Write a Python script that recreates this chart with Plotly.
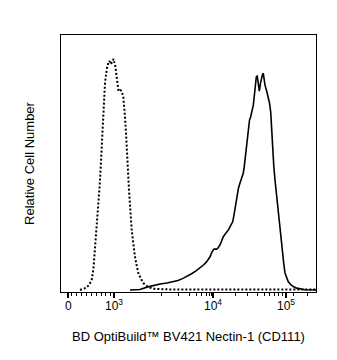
import plotly.graph_objects as go

# Display-scale channel (0-255) for the BV421 biexponential axis
unstained_ch = [19, 25, 28, 30.7, 32.5, 34, 35.7, 37.3, 38.5, 39.7, 40.7, 41.7, 43, 44, 45, 46,
                47.5, 48.5, 49.5, 50.5, 51.5, 52.5, 53.5, 54.5, 55.5, 56.5, 57.5, 59, 60.7,
                62.3, 63.2, 64, 65, 65.7, 67, 68, 69.5, 70.7, 72.5, 74, 76, 77.3, 80, 82.3,
                87.3, 94, 109, 255]
unstained_cnt = [0.8, 1.6, 2.7, 4.7, 9.3, 16.3, 24.1, 31.9, 40.5, 48.6, 56.4, 64.2, 74.7, 81.3,
                 84.4, 87.2, 89.1, 89.9, 88.7, 89.1, 89.5, 90.7, 89.5, 87.5, 84.0, 80.1, 78.2,
                 78.6, 78.2, 75.9, 72.7, 68.1, 61.9, 55.3, 47.5, 39.7, 31.1, 24.1, 18.3, 13.6,
                 9.7, 7.4, 5.1, 3.5, 1.9, 1.2, 1.0, 1.0]

stained_ch = [69, 79, 86, 92, 99, 106, 112, 117, 122, 127, 131, 135, 139, 142.5, 145.7, 149,
              151, 153, 155.7, 157, 159, 160.5, 162.3, 165, 167.3, 169.5, 171.7, 173, 174, 175,
              176.3, 177.5, 179, 180.5, 182.3, 183.2, 184, 185, 185.7, 186.5, 187.3, 188.5,
              189.7, 191, 192.3, 193.2, 194, 194.6, 195.3, 196.3, 197.3, 198.3, 199.5, 200.7,
              201.5, 202.3, 203.2, 204, 205.7, 207.3, 208.5, 209.7, 210.5, 211.7, 212.8, 214,
              215.2, 216.3, 217.6, 219, 220.3, 221.7, 222.8, 224, 225.6, 227.3, 229.8, 232.3,
              235.7, 239, 244, 255]
stained_cnt = [0.8, 1.0, 1.9, 2.5, 3.1, 3.5, 3.9, 4.5, 5.3, 6.2, 7.2, 8.2, 9.3, 10.5, 11.8, 13.7,
               15.6, 16.7, 16.7, 17.1, 18.3, 19.8, 21.5, 23.0, 24.1, 25.7, 27.3, 30.0, 32.7,
               35.4, 38.5, 40.5, 42.4, 44.4, 46.3, 48.6, 51.4, 55.3, 58.0, 61.9, 65.0, 66.9,
               68.2, 70.4, 72.7, 75.9, 78.6, 81.7, 83.7, 84.0, 80.9, 78.2, 81.3, 83.7, 84.6,
               85.1, 82.9, 80.5, 78.2, 76.0, 73.5, 70.1, 63.7, 55.1, 48.9, 43.6, 38.9, 34.6,
               30.7, 26.8, 21.0, 15.2, 10.9, 7.4, 5.4, 4.0, 2.9, 2.1, 1.5, 1.2, 0.9, 0.8]

# Axis ticks (channel positions)
major_ticks = [7, 52.8, 152.3, 224.8]
major_labels = ["0", "10<sup>3</sup>", "10<sup>4</sup>", "10<sup>5</sup>"]
minor_ticks = [10, 15, 20, 25, 30, 35, 40, 44.7, 49,
               100.5, 117, 128.5, 135, 140.5, 145, 148, 150,
               174.1, 186.9, 196, 203, 208.7, 213.6, 217.8, 221.5,
               232, 246.6]

font_family = "Liberation Sans, Arial, sans-serif"

fig = go.Figure()
fig.add_trace(go.Scatter(x=unstained_ch, y=unstained_cnt, mode="lines",
                         line=dict(color="black", width=2, dash="2px,2px"),
                         hoverinfo="skip", showlegend=False))
fig.add_trace(go.Scatter(x=stained_ch, y=stained_cnt, mode="lines",
                         line=dict(color="black", width=1.6),
                         hoverinfo="skip", showlegend=False))

# Decade labels, bottom-anchored so the baselines line up under the ticks
for val, lab in zip(major_ticks, major_labels):
    fig.add_annotation(x=val, y=0, xref="x", yref="paper", text=lab,
                       showarrow=False, xanchor="center", yanchor="bottom", yshift=-23,
                       font=dict(size=12, family=font_family, color="black"))

fig.update_layout(
    width=337, height=360,
    margin=dict(l=61, r=21, t=35, b=68),
    paper_bgcolor="white", plot_bgcolor="white",
    font=dict(family=font_family, color="black"),
    xaxis=dict(
        range=[0, 255], showgrid=False, zeroline=False,
        showline=True, mirror=True, linecolor="black", linewidth=1,
        tickmode="array", tickvals=major_ticks, showticklabels=False,
        ticks="outside", ticklen=5, tickwidth=2, tickcolor="black",
        minor=dict(tickmode="array", tickvals=minor_ticks, ticks="outside",
                   ticklen=3, tickwidth=1, tickcolor="black", showgrid=False),
        title=dict(text="BD OptiBuild™ BV421 Nectin-1 (CD111)",
                   font=dict(size=13, family=font_family), standoff=34),
    ),
    yaxis=dict(
        range=[0, 100], showgrid=False, zeroline=False,
        showline=True, mirror=True, linecolor="black", linewidth=1,
        showticklabels=False, ticks="",
        title=dict(text="Relative Cell Number",
                   font=dict(size=13, family=font_family), standoff=22),
    ),
)

fig.write_html("out.html")
